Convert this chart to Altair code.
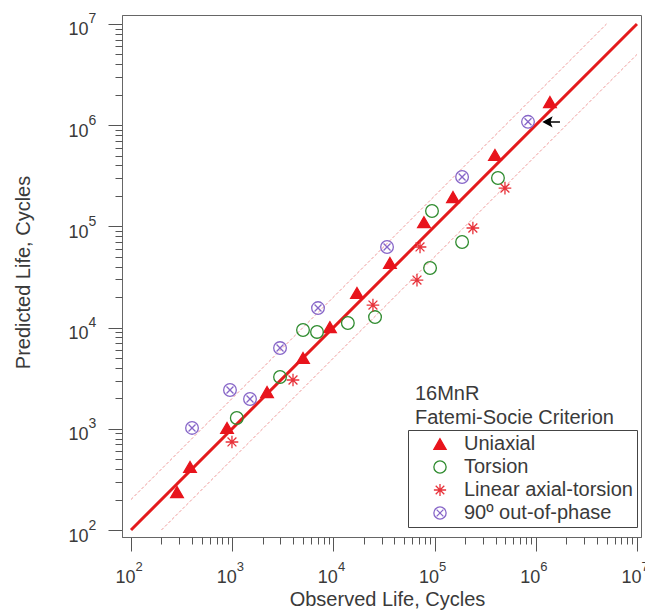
import altair as alt
import pandas as pd

# Observed vs. predicted fatigue life (cycles) for 16MnR, Fatemi-Socie criterion
series = ["Uniaxial", "Torsion", "Linear axial-torsion", "90º out-of-phase"]

uni_obs = [285, 383, 889, 2210, 5010, 9250, 17100, 36200, 78500, 152000, 395000, 1380000]
uni_pred = [237, 420, 1020, 2310, 5010, 10100, 22000, 43500, 110000, 195000, 508000, 1690000]

tor_obs = [1110, 2970, 5010, 6890, 13900, 25800, 90200, 94300, 187000, 423000]
tor_pred = [1280, 3250, 9460, 9060, 11100, 12700, 38800, 142000, 70100, 301000]

lin_obs = [995, 3990, 24600, 67000, 71800, 239000, 496000]
lin_pred = [741, 3035, 16700, 29500, 62600, 96400, 239000]

oop_obs = [401, 951, 1500, 2970, 7050, 33900, 187000, 838000]
oop_pred = [1020, 2420, 1970, 6280, 15600, 62600, 308000, 1080000]

# 1:1 line and factor-of-two scatter band
diag_x = [100, 10000000]
diag_y = [100, 10000000]
upper_x = [100, 5000000]
upper_y = [200, 10000000]
lower_x = [200, 10000000]
lower_y = [100, 5000000]

# marker of interest
arrow_x = [1445000]
arrow_y = [1077000]

notes = ["16MnR", "Fatemi-Socie Criterion"]
note_x = [64000, 64000]
note_y = [1928, 1114]

major = [100, 1000, 10000, 100000, 1000000, 10000000]
minor = [m * d for d in [100, 1000, 10000, 100000, 1000000] for m in range(2, 10)]

FONT = "Liberation Sans"
TXT = "#3a3a3a"
W, H = 519, 522

xs = alt.Scale(type="log", domain=[81.5, 1.096e7], nice=False)
ys = alt.Scale(type="log", domain=[85.3, 1.227e7], nice=False)

frames = []
for name, ox, oy in [(series[0], uni_obs, uni_pred), (series[1], tor_obs, tor_pred),
                     (series[2], lin_obs, lin_pred), (series[3], oop_obs, oop_pred)]:
    frames.append(pd.DataFrame({"obs": ox, "pred": oy, "series": name}))
pts = pd.concat(frames, ignore_index=True)

diag = pd.DataFrame({"x": diag_x, "y": diag_y})
bands = pd.concat([
    pd.DataFrame({"x": upper_x, "y": upper_y, "band": "upper"}),
    pd.DataFrame({"x": lower_x, "y": lower_y, "band": "lower"}),
], ignore_index=True)
arrow = pd.DataFrame({"x": arrow_x, "y": arrow_y})
note_df = pd.DataFrame({"x": note_x, "y": note_y, "t": notes})
tick_df = pd.DataFrame({"x": [1000], "y": [1000]})

ASTERISK = "M-1,0L1,0M0,-1L0,1M-0.7,-0.7L0.7,0.7M-0.7,0.7L0.7,-0.7"
OTIMES = "M1,0A1,1,0,1,1,-1,0A1,1,0,1,1,1,0ZM-0.55,-0.55L0.55,0.55M-0.55,0.55L0.55,-0.55"
ARROW = "M-1,0L-0.1,-0.5L-0.3,0L-0.1,0.5ZM-0.3,0L1,0"

stroke_range = ["#e8141c", "#2e8b2e", "#e8323a", "#8766c8"]
fill_range = ["#e8141c", "transparent", "transparent", "transparent"]
shape_range = ["triangle-up", "circle", ASTERISK, OTIMES]

AX = dict(grid=False, domainColor="#666666", tickColor="#555555", tickWidth=1,
          labelColor=TXT, labelFont=FONT, titleFont=FONT, titleColor=TXT,
          titleFontWeight="normal", labelFlush=False, labelOverlap=False)

x_major = alt.Axis(orient="bottom", values=major, tickSize=14, labelExpr="'10'",
                   labelFontSize=18, labelAlign="right", labelBaseline="alphabetic",
                   labelOffset=4, labelPadding=31, title="Observed Life, Cycles",
                   titleFontSize=20, titleX=265, titleY=68, titleBaseline="alphabetic", **AX)
y_major = alt.Axis(orient="left", values=major, tickSize=14, labelExpr="'10'",
                   labelFontSize=18, labelAlign="right", labelBaseline="alphabetic",
                   labelOffset=11, labelPadding=20, title="Predicted Life, Cycles",
                   titleFontSize=20, titleX=-99, titleY=257, titleBaseline="middle",
                   titleAlign="center", titleAngle=270, **AX)

EXP = "'' + round(log(datum.value) / LN10)"
x_sup = alt.Axis(orient="bottom", values=major, tickSize=14, tickOpacity=0, domain=False,
                 labelExpr=EXP, labelFontSize=13, labelAlign="left",
                 labelBaseline="alphabetic", labelOffset=4, labelPadding=19, title=None, **AX)
y_sup = alt.Axis(orient="left", values=major, tickSize=14, tickOpacity=0, domain=False,
                 labelExpr=EXP, labelFontSize=14, labelAlign="left",
                 labelBaseline="alphabetic", labelOffset=-1, labelPadding=20, title=None, **AX)
x_minor = alt.Axis(orient="bottom", values=minor, tickSize=7, labels=False, domain=False,
                   title=None, **AX)
y_minor = alt.Axis(orient="left", values=minor, tickSize=7, labels=False, domain=False,
                   title=None, **AX)

legend = alt.Legend(title=None, orient="none", legendX=286, legendY=415, direction="vertical",
                    strokeColor="#444444", padding=4, labelFont=FONT, labelFontSize=20,
                    labelColor=TXT, labelLimit=400, symbolSize=150, symbolStrokeWidth=1.3,
                    symbolOffset=18, labelOffset=14, rowPadding=3, fillColor="white")

band_layer = alt.Chart(bands).mark_line(color="#f09a9a", strokeWidth=1, strokeDash=[3, 2]).encode(
    x=alt.X("x:Q", scale=xs, axis=None),
    y=alt.Y("y:Q", scale=ys, axis=None),
    detail="band:N",
)
diag_layer = alt.Chart(diag).mark_line(color="#e41a1c", strokeWidth=3).encode(
    x=alt.X("x:Q", scale=xs, axis=None),
    y=alt.Y("y:Q", scale=ys, axis=None),
)
point_layer = alt.Chart(pts).mark_point(size=160, strokeWidth=1.3, opacity=1).encode(
    x=alt.X("obs:Q", scale=xs, axis=x_major),
    y=alt.Y("pred:Q", scale=ys, axis=y_major),
    shape=alt.Shape("series:N", scale=alt.Scale(domain=series, range=shape_range), legend=legend),
    stroke=alt.Stroke("series:N", scale=alt.Scale(domain=series, range=stroke_range), legend=legend),
    fill=alt.Fill("series:N", scale=alt.Scale(domain=series, range=fill_range), legend=legend),
)
arrow_layer = alt.Chart(arrow).mark_point(shape=ARROW, size=256, filled=True, color="black",
                                          stroke="black", strokeWidth=1.5, opacity=1).encode(
    x=alt.X("x:Q", scale=xs, axis=None),
    y=alt.Y("y:Q", scale=ys, axis=None),
)
note_layer = alt.Chart(note_df).mark_text(align="left", baseline="alphabetic", font=FONT,
                                          fontSize=20, color=TXT).encode(
    x=alt.X("x:Q", scale=xs, axis=None),
    y=alt.Y("y:Q", scale=ys, axis=None),
    text="t:N",
)
minor_layer = alt.Chart(tick_df).mark_point(opacity=0).encode(
    x=alt.X("x:Q", scale=xs, axis=x_minor),
    y=alt.Y("y:Q", scale=ys, axis=y_minor),
)
sup_layer = alt.Chart(tick_df).mark_point(opacity=0).encode(
    x=alt.X("x:Q", scale=xs, axis=x_sup),
    y=alt.Y("y:Q", scale=ys, axis=y_sup),
)

chart = alt.layer(
    band_layer, diag_layer, point_layer, arrow_layer, note_layer, minor_layer, sup_layer
).resolve_axis(x="independent", y="independent").properties(
    width=W, height=H,
    autosize=alt.AutoSizeParams(type="none"),
    padding={"left": 122, "top": 15, "right": 4, "bottom": 75},
    background="white",
).configure_view(stroke="#666666", strokeWidth=1)

chart.save("out.html", embed_options={"renderer": "svg", "actions": False})
